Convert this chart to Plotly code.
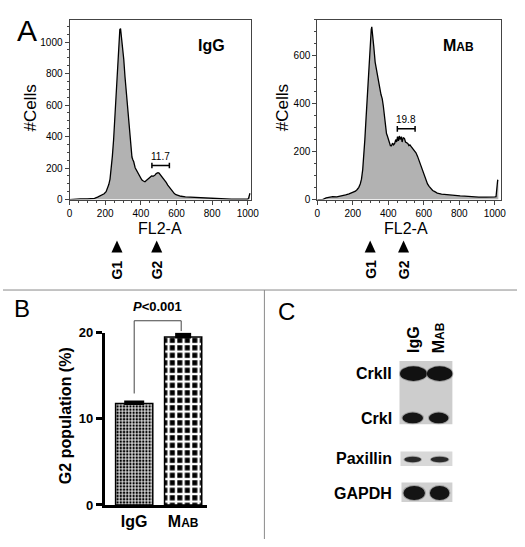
import plotly.graph_objects as go

W, H = 525, 547
FONT = "Liberation Sans, Arial, Helvetica, sans-serif"

# ---------------- data ----------------
igg_ch = [0, 40, 60, 100, 140, 157, 175, 194, 205, 212, 220, 227, 234, 240, 247, 253, 260, 267, 275, 282,
          286, 289, 296, 304, 311, 319, 325, 331, 338, 344, 350, 355, 360, 368, 376, 386, 395, 405, 414, 423,
          432, 441, 450, 460, 468, 478, 486, 496, 502, 508, 516, 524, 533, 542, 551, 560, 570, 579, 588, 597,
          610, 625, 650, 689, 720, 760, 800, 817, 840, 860, 880, 908, 950, 990, 1000, 1005, 1009, 1012]
igg_cells = [0, 0, 4, 5, 8, 16, 25, 37, 50, 68, 95, 130, 190, 274, 380, 500, 650, 809, 960, 1080,
             1085, 1055, 980, 891, 780, 665, 580, 500, 400, 315, 270, 253, 240, 202, 185, 171, 150, 125, 118, 113,
             122, 130, 140, 150, 148, 154, 165, 171, 168, 160, 150, 140, 125, 109, 92, 78, 60, 47, 38, 31,
             25, 21, 17, 14, 12, 9, 7, 6, 4, 5, 3, 2, 2, 2, 2, 10, 37, 40]

mab_ch = [0, 30, 50, 70, 87, 110, 142, 160, 179, 200, 215, 225, 234, 242, 249, 256, 262, 268, 274, 281,
          289, 296, 304, 307, 311, 318, 326, 335, 344, 351, 359, 366, 372, 378, 384, 390, 395, 400, 406, 412,
          418, 424, 430, 436, 442, 447, 452, 457, 462, 467, 473, 478, 484, 491, 497, 503, 510, 516, 522, 529,
          535, 541, 547, 556, 565, 575, 584, 593, 602, 611, 621, 630, 639, 650, 662, 676, 700, 731, 760, 790,
          805, 830, 860, 878, 910, 952, 980, 1000, 1007, 1012, 1016, 1020]
mab_cells = [0, 0, 7, 9, 12, 11, 15, 20, 24, 30, 35, 42, 51, 65, 85, 125, 180, 250, 329, 430,
             532, 630, 709, 720, 695, 640, 573, 530, 492, 470, 438, 420, 390, 356, 300, 275, 265, 255, 240, 225,
             224, 235, 228, 234, 250, 240, 262, 245, 265, 250, 262, 240, 258, 255, 240, 238, 234, 225, 228, 221,
             215, 212, 207, 195, 180, 160, 140, 120, 99, 82, 65, 55, 45, 38, 33, 27, 23, 20, 18, 16,
             15, 14, 12, 11, 10, 10, 9, 11, 12, 40, 80, 79]

igg_g2_label = "11.7"
mab_g2_label = "19.8"
igg_gate = [462, 560]
mab_gate = [451, 551]
igg_phase_marks = [266, 489]      # G1, G2 channel positions
mab_phase_marks = [298, 486]
phase_names = ["G1", "G2"]
hist_ticks = [0, 200, 400, 600, 800, 1000]

groups_b = ["IgG", "M<span style='font-size:12px'>AB</span>"]
g2_mean = [11.8, 19.5]
g2_err = [0.15, 0.35]
b_ticks = [0, 10, 20]
p_text = "<i>P</i><0.001"

blot_rows = ["CrkII", "CrkI", "Paxillin", "GAPDH"]
blot_lanes = ["IgG", "M<span style='font-size:12px'>AB</span>"]


def px(x):
    return x / W


def py(y):
    return 1 - y / H


fig = go.Figure()

# ---------------- histograms ----------------
for ch, cells, xa, ya in [(igg_ch, igg_cells, "x", "y"), (mab_ch, mab_cells, "x2", "y2")]:
    fig.add_trace(go.Scatter(x=ch, y=cells, mode="lines", fill="tozeroy", fillcolor="#b2b2b2",
                             line=dict(color="black", width=1.3), xaxis=xa, yaxis=ya,
                             hoverinfo="skip", showlegend=False))

# ---------------- bar chart B ----------------
fig.add_trace(go.Bar(x=[0], y=[g2_mean[0]], width=0.76, xaxis="x3", yaxis="y3",
                     marker=dict(color="black", line=dict(color="black", width=1.5),
                                 pattern=dict(shape="+", fgcolor="white", bgcolor="black", size=3.2, solidity=0.5,
                                              fillmode="replace")),
                     error_y=dict(type="data", symmetric=False, array=[g2_err[0]], arrayminus=[0],
                                  color="black", thickness=3, width=10),
                     showlegend=False, hoverinfo="skip"))
fig.add_trace(go.Bar(x=[1], y=[g2_mean[1]], width=0.76, xaxis="x3", yaxis="y3",
                     marker=dict(color="black", line=dict(color="black", width=1.5),
                                 pattern=dict(shape="+", fgcolor="white", bgcolor="black", size=7.5, solidity=0.55,
                                              fillmode="replace")),
                     error_y=dict(type="data", symmetric=False, array=[g2_err[1]], arrayminus=[0],
                                  color="black", thickness=3, width=8),
                     showlegend=False, hoverinfo="skip"))

hist_dom_y = [py(198), py(13)]
b_dom_y = [py(512), py(335)]
b_range = [0, 20]


def y3_paper(v):
    return b_dom_y[0] + (v - b_range[0]) / (b_range[1] - b_range[0]) * (b_dom_y[1] - b_dom_y[0])


def hist_x(dom, rng):
    return dict(domain=dom, range=rng, showline=True, mirror=True, linecolor="#444", linewidth=1,
                ticks="outside", ticklen=4, tickwidth=1, tickcolor="#444", tickvals=hist_ticks,
                tickfont=dict(size=10, family=FONT, color="black"), showgrid=False, zeroline=False,
                minor=dict(ticks="outside", ticklen=2, dtick=50, tickcolor="#444"), fixedrange=True)


def hist_y(rng, anchor, minor_dtick):
    return dict(domain=hist_dom_y, range=rng, anchor=anchor, showline=True, mirror=True, linecolor="#444",
                linewidth=1, ticks="outside", ticklen=4, tickwidth=1, tickcolor="#444", dtick=200,
                tickfont=dict(size=10, family=FONT, color="black"), showgrid=False, zeroline=False,
                minor=dict(ticks="outside", ticklen=2, dtick=minor_dtick, tickcolor="#444"), fixedrange=True)


fig.update_layout(
    width=W, height=H, margin=dict(l=0, r=0, t=0, b=0),
    paper_bgcolor="white", plot_bgcolor="rgba(0,0,0,0)",
    barmode="overlay", showlegend=False,
    font=dict(family=FONT, color="black"),
    xaxis=dict(hist_x([px(68), px(253.3)], [0, 1018]), anchor="y"),
    yaxis=hist_y([0, 1142], "x", 50),
    xaxis2=dict(hist_x([px(321), px(508.3)], [0, 1033]), anchor="y2"),
    yaxis2=hist_y([0, 750], "x2", 50),
    xaxis3=dict(domain=[px(104), px(208)], range=[-0.6, 1.48], anchor="y3", showline=True,
                linecolor="black", linewidth=3, ticks="", tickvals=[0, 1],
                ticktext=["<b>" + g + "</b>" for g in groups_b],
                tickfont=dict(size=16, family=FONT, color="black"), showgrid=False, zeroline=False,
                fixedrange=True),
    yaxis3=dict(domain=b_dom_y, range=b_range, anchor="x3", showline=True, linecolor="black",
                linewidth=3, ticks="outside", ticklen=6, tickwidth=2.5, tickcolor="black",
                tickvals=b_ticks, ticktext=["<b>%d</b>" % t for t in b_ticks],
                tickfont=dict(size=13, family=FONT, color="black"), showgrid=False, zeroline=False,
                fixedrange=True),
)

ann = []
shapes = []


def txt(x, y, text, size, **kw):
    d = dict(x=x, y=y, xref="paper", yref="paper", text=text, showarrow=False,
             xanchor="center", yanchor="middle",
             font=dict(size=size, family=FONT, color="black"))
    d.update(kw)
    ann.append(d)


# panel letters
txt(px(25), py(24), "A", 30)
txt(px(19), py(310), "B", 24)
txt(px(290), py(313), "C", 24)

# histogram titles / axis titles
txt(px(213), py(40), "<b>IgG</b>", 16)
txt(px(465), py(40), "<b>M<span style='font-size:12px'>AB</span></b>", 16)
txt(px(28), py(104), "#Cells", 17, textangle=-90)
txt(px(285), py(104), "#Cells", 17, textangle=-90)
txt(px(160), py(228), "FL2-A", 16)
txt(px(412), py(228), "FL2-A", 16)

# gates
for gate, lab, xa, ya, gy, cap in [(igg_gate, igg_g2_label, "x", "y", 216, 18),
                                   (mab_gate, mab_g2_label, "x2", "y2", 295, 12)]:
    shapes.append(dict(type="line", xref=xa, yref=ya, x0=gate[0], x1=gate[1], y0=gy, y1=gy,
                       line=dict(color="black", width=1.5)))
    for gx in gate:
        shapes.append(dict(type="line", xref=xa, yref=ya, x0=gx, x1=gx, y0=gy - cap, y1=gy + cap,
                           line=dict(color="black", width=1.5)))
    ann.append(dict(x=(gate[0] + gate[1]) / 2, y=gy, xref=xa, yref=ya, text=lab, showarrow=False,
                    xanchor="center", yanchor="bottom", yshift=2,
                    font=dict(size=10, family=FONT, color="black")))

# G1/G2 arrow markers
for marks, xa in [(igg_phase_marks, "x"), (mab_phase_marks, "x2")]:
    for v, name in zip(marks, phase_names):
        shapes.append(dict(type="path", xref=xa, yref="paper",
                           path="M %f,%f L %f,%f L %f,%f Z" % (v - 31, py(252.5), v + 31, py(252.5), v, py(240)),
                           fillcolor="black", line=dict(color="black", width=0)))
        ann.append(dict(x=v, y=py(270), xref=xa, yref="paper", text="<b>%s</b>" % name, showarrow=False,
                        xanchor="center", yanchor="middle", textangle=-90,
                        font=dict(size=14, family=FONT, color="black")))

# divider lines
shapes.append(dict(type="line", xref="paper", yref="paper", x0=0, x1=1, y0=py(291), y1=py(291),
                   line=dict(color="#8a8a8a", width=1)))
shapes.append(dict(type="line", xref="paper", yref="paper", x0=px(267), x1=px(267), y0=py(291), y1=0,
                   line=dict(color="#8a8a8a", width=1)))

# panel B: y title, significance bracket
txt(px(64), py(420), "<b>G2 population (%)</b>", 16, textangle=-90)
y_leg_l = y3_paper(g2_mean[0] + g2_err[0] + 1.0)
y_top = y3_paper(21.4)
y_leg_r = y3_paper(g2_mean[1] + g2_err[1] + 0.35)
shapes.append(dict(type="path", xref="x3", yref="paper",
                   path="M 0,%f L 0,%f L 0.96,%f L 0.96,%f" % (y_leg_l, y_top, y_top, y_leg_r),
                   line=dict(color="#444", width=1)))
txt(px(158), py(308), "<b>" + p_text + "</b>", 13)

# panel C: western blot
boxes = [(405, 459, 364, 429, "#cdcdcd"), (406, 459, 457, 472, "#d8d8d8"), (407, 459, 489, 509, "#d0d0d0")]
for x0, x1, y0, y1, c in boxes:
    shapes.append(dict(type="rect", xref="paper", yref="paper", x0=px(x0), x1=px(x1), y0=py(y1), y1=py(y0),
                       fillcolor=c, line=dict(width=0), layer="above"))
bands = {
    "CrkII": [(405.5, 433), (433, 459), 369.5, 384.5, 377, "#111111"],
    "CrkI": [(408, 429), (435, 455), 417, 428, 423, "#151515"],
    "Paxillin": [(410, 427), (437, 455), 462.5, 468, 464, "#2a2a2a"],
    "GAPDH": [(409, 431), (436, 456), 492.5, 507, 500, "#141414"],
}
for row in blot_rows:
    l0, l1, y0, y1, ly, col = bands[row]
    for (a, b) in (l0, l1):
        shapes.append(dict(type="circle", xref="paper", yref="paper", x0=px(a - 1), x1=px(b + 1),
                           y0=py(y1 + 1), y1=py(y0 - 1), fillcolor="#666", opacity=0.45,
                           line=dict(width=0)))
        shapes.append(dict(type="circle", xref="paper", yref="paper", x0=px(a), x1=px(b),
                           y0=py(y1), y1=py(y0), fillcolor=col, line=dict(width=0)))
    txt(px(399), py(ly), "<b>%s</b>" % row, 16, xanchor="right")
for lane, lx in zip(blot_lanes, [419, 445]):
    txt(px(lx), py(358), "<b>%s</b>" % lane, 16, textangle=-90, yanchor="bottom")

fig.update_layout(annotations=ann, shapes=shapes)
fig.write_html("out.html", config={"displayModeBar": False},
               post_script="document.body.style.margin='0px';")
